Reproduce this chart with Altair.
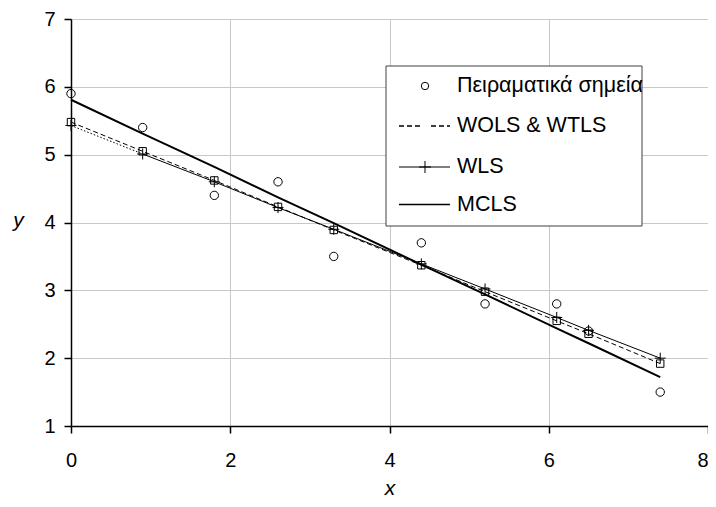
import altair as alt
import pandas as pd

# ---- data ----
x_vals = [0, 0.9, 1.8, 2.6, 3.3, 4.4, 5.2, 6.1, 6.5, 7.4]
y_exp = [5.9, 5.4, 4.4, 4.6, 3.5, 3.7, 2.8, 2.8, 2.4, 1.5]
y_wols = [5.48, 5.05, 4.62, 4.23, 3.89, 3.37, 2.98, 2.55, 2.36, 1.92]
y_wls = [5.43, 5.01, 4.60, 4.22, 3.90, 3.39, 3.02, 2.60, 2.41, 2.00]
y_mcls = [5.81, 5.31, 4.82, 4.37, 3.99, 3.38, 2.94, 2.44, 2.22, 1.72]
legend_labels = ["Πειραματικά σημεία", "WOLS & WTLS", "WLS", "MCLS"]
x_ticks = [0, 2, 4, 6, 8]
y_ticks = [1, 2, 3, 4, 5, 6, 7]

FONT = "Liberation Sans, Arial, sans-serif"

rows = []
for name, ys in [("exp", y_exp), ("wols", y_wols), ("wls", y_wls), ("mcls", y_mcls)]:
    for xv, yv in zip(x_vals, ys):
        rows.append({"series": name, "x": xv, "value": yv})
df = pd.DataFrame(rows)

xenc = alt.X(
    "x:Q",
    scale=alt.Scale(domain=[0, 8], nice=False, zero=False),
    axis=alt.Axis(
        values=x_ticks, grid=True, gridColor="#c8c8c8", gridWidth=1,
        domainColor="black", domainWidth=1.5, tickColor="black", tickWidth=1.5,
        tickSize=7, labelFont=FONT, labelFontSize=20, labelColor="black",
        labelPadding=17, labelFlush=False, labelOverlap=False,
        labelAlign=alt.expr("datum.value == 8 ? 'right' : 'center'"),
        title="x", titleFont=FONT, titleFontSize=21, titleFontStyle="italic",
        titleFontWeight="normal", titleColor="black", titleY=68,
        titleBaseline="alphabetic",
    ),
)
yenc = alt.Y(
    "value:Q",
    scale=alt.Scale(domain=[1, 7], nice=False, zero=False),
    axis=alt.Axis(
        values=y_ticks, grid=True, gridColor="#c8c8c8", gridWidth=1,
        domainColor="black", domainWidth=1.5, tickColor="black", tickWidth=1.5,
        tickSize=7, labelFont=FONT, labelFontSize=20, labelColor="black",
        labelPadding=9, labelFlush=False, labelOverlap=False,
        title="y", titleFont=FONT, titleFontSize=21, titleFontStyle="italic",
        titleFontWeight="normal", titleColor="black", titleAngle=0,
        titleX=-53, titleY=207, titleAlign="center", titleBaseline="alphabetic",
    ),
)

base = alt.Chart(df).encode(x=xenc, y=yenc)
d = alt.datum

pts = base.transform_filter(d.series == "exp").mark_point(
    shape="circle", filled=False, color="black", size=70, strokeWidth=1, opacity=1)
wols_line = base.transform_filter(d.series == "wols").mark_line(
    color="black", strokeWidth=1, strokeDash=[5, 3])
wols_pts = base.transform_filter(d.series == "wols").mark_point(
    shape="square", filled=False, color="black", size=55, strokeWidth=1, opacity=1)
wls_line1 = base.transform_filter((d.series == "wls") & (d.x <= 0.9)).mark_line(
    color="black", strokeWidth=1, strokeDash=[1.5, 2])
wls_line2 = base.transform_filter((d.series == "wls") & (d.x >= 0.9)).mark_line(
    color="black", strokeWidth=1)
PLUS = "M-1,0H1M0,-1V1"
wls_pts = base.transform_filter(d.series == "wls").mark_point(
    shape=PLUS, filled=False, color="black", size=121, strokeWidth=1, opacity=1)
mcls_line = base.transform_filter(d.series == "mcls").mark_line(
    color="black", strokeWidth=2)

# ---- manual legend (pixel positions inside the plot area) ----
one = pd.DataFrame({"k": [0]})
box = alt.Chart(one).mark_rect(fill="white", stroke="#404040", strokeWidth=1).encode(
    x=alt.value(315), x2=alt.value(571), y=alt.value(47), y2=alt.value(207))
ly = [67, 107, 148, 185.5]
sym_x, l0, l1, tx = 354, 328, 379, 386
leg = [box]
leg.append(alt.Chart(one).mark_point(shape="circle", filled=False, color="black",
                                     size=55, strokeWidth=1, opacity=1).encode(
    x=alt.value(sym_x), y=alt.value(ly[0])))
leg.append(alt.Chart(one).mark_rule(color="black", strokeWidth=1.5, strokeDash=[5, 3]).encode(
    x=alt.value(l0), x2=alt.value(l1), y=alt.value(ly[1])))
leg.append(alt.Chart(one).mark_point(shape="square", filled=True, fill="white", color="black",
                                     size=36, strokeWidth=1, opacity=1).encode(
    x=alt.value(sym_x), y=alt.value(ly[1])))
leg.append(alt.Chart(one).mark_rule(color="black", strokeWidth=1.2).encode(
    x=alt.value(l0), x2=alt.value(l1), y=alt.value(ly[2])))
leg.append(alt.Chart(one).mark_point(shape=PLUS, filled=False, color="black",
                                     size=144, strokeWidth=1, opacity=1).encode(
    x=alt.value(sym_x), y=alt.value(ly[2])))
leg.append(alt.Chart(one).mark_rule(color="black", strokeWidth=1.6).encode(
    x=alt.value(l0), x2=alt.value(l1), y=alt.value(ly[3])))
for i, lab in enumerate(legend_labels):
    leg.append(alt.Chart(pd.DataFrame({"label": [lab]})).mark_text(
        align="left", baseline="middle", font=FONT, fontSize=21.5, color="black").encode(
        x=alt.value(tx), y=alt.value(ly[i]), text="label:N"))

chart = alt.layer(
    pts, wols_line, wols_pts, wls_line1, wls_line2, wls_pts, mcls_line, *leg
).properties(
    width=637, height=407,
    autosize=alt.AutoSizeParams(type="none"),
    padding={"left": 63, "top": 11, "right": 0, "bottom": 73},
).configure_view(stroke="#a0a0a0", strokeWidth=1).configure(background="white")

chart.save("out.html", embed_options={"renderer": "svg", "actions": False})
